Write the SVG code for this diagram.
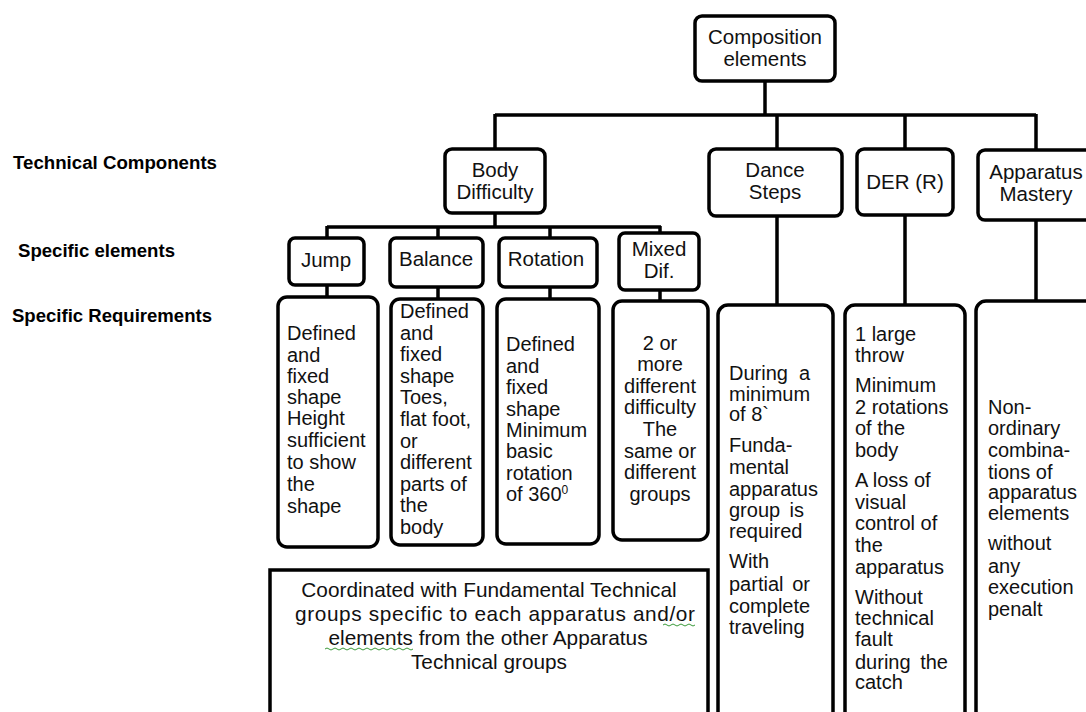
<svg xmlns="http://www.w3.org/2000/svg" width="1086" height="712" viewBox="0 0 1086 712">
<style>
.box{fill:#fff;stroke:#000;stroke-width:3.5}
.c{fill:none;stroke:#000;stroke-width:3.5}
text{font-family:"Liberation Sans",Arial,sans-serif;font-size:20px;fill:#111}
.h{font-size:20.5px}
.m{text-anchor:middle}
.big{font-size:20.8px}
.lab{font-weight:bold;font-size:18px;fill:#000}
.wave{fill:none;stroke:#3a9a3a;stroke-width:1}
</style>
<rect width="1086" height="712" fill="#fff"/>
<g id="connectors">
<path class="c" d="M765 81V115" stroke-width="5"/>
<path class="c" d="M495 115H1036M495 114V149M777 114V305M905 114V305M1036 114V302"/>
<path class="c" d="M495 213V227M327 227H661M327 226V297M438 226V300M550 226V300M660 226V301"/>
</g>
<g id="labels">
<text class="lab" x="13" y="169" textLength="204" lengthAdjust="spacingAndGlyphs">Technical Components</text>
<text class="lab" x="18" y="257" textLength="157" lengthAdjust="spacingAndGlyphs">Specific elements</text>
<text class="lab" x="12" y="322" textLength="200" lengthAdjust="spacingAndGlyphs">Specific Requirements</text>
</g>
<g id="composition">
<rect class="box" x="695" y="16" width="140" height="65" rx="7"/>
<text class="m h" x="765" y="44">Composition</text>
<text class="m h" x="765" y="66">elements</text>
</g>
<g id="body-difficulty">
<rect class="box" x="445" y="149" width="100" height="64" rx="7"/>
<text class="m h" x="495" y="177">Body</text>
<text class="m h" x="495" y="199">Difficulty</text>
</g>
<g id="dance-steps">
<rect class="box" x="709" y="149" width="133" height="67" rx="7"/>
<text class="m h" x="775" y="177">Dance</text>
<text class="m h" x="775" y="199">Steps</text>
</g>
<g id="der">
<rect class="box" x="857" y="149" width="96" height="66" rx="7"/>
<text class="m h" x="905" y="189">DER (R)</text>
</g>
<g id="apparatus-mastery">
<rect class="box" x="978" y="150" width="120" height="70" rx="7"/>
<text class="m h" x="1036" y="179">Apparatus</text>
<text class="m h" x="1036" y="201">Mastery</text>
</g>
<g id="jump">
<rect class="box" x="289" y="238" width="75" height="47" rx="6"/>
<text class="m h" x="326" y="267">Jump</text>
</g>
<g id="balance">
<rect class="box" x="390" y="238" width="93" height="49" rx="6"/>
<text class="m h" x="436" y="266">Balance</text>
</g>
<g id="rotation">
<rect class="box" x="499" y="238" width="98" height="49" rx="6"/>
<text class="m h" x="546" y="266">Rotation</text>
</g>
<g id="mixed">
<rect class="box" x="619" y="233" width="80" height="57" rx="6"/>
<text class="m h" x="659" y="256">Mixed</text>
<text class="m h" x="659" y="278">Dif.</text>
</g>
<g id="jump-req">
<rect class="box" x="278" y="297" width="100" height="250" rx="9"/>
<text x="287" y="340">Defined</text>
<text x="287" y="362">and</text>
<text x="287" y="383">fixed</text>
<text x="287" y="404">shape</text>
<text x="287" y="425">Height</text>
<text x="287" y="447">sufficient</text>
<text x="287" y="469">to show</text>
<text x="287" y="491">the</text>
<text x="287" y="513">shape</text>
</g>
<g id="balance-req">
<rect class="box" x="391" y="299" width="92" height="246" rx="9"/>
<text x="400" y="318">Defined</text>
<text x="400" y="340">and</text>
<text x="400" y="361">fixed</text>
<text x="400" y="383">shape</text>
<text x="400" y="404">Toes,</text>
<text x="400" y="426">flat foot,</text>
<text x="400" y="448">or</text>
<text x="400" y="469">different</text>
<text x="400" y="491">parts of</text>
<text x="400" y="512">the</text>
<text x="400" y="534">body</text>
</g>
<g id="rotation-req">
<rect class="box" x="497" y="299" width="102" height="245" rx="9"/>
<text x="506" y="351">Defined</text>
<text x="506" y="373">and</text>
<text x="506" y="394">fixed</text>
<text x="506" y="416">shape</text>
<text x="506" y="437">Minimum</text>
<text x="506" y="458">basic</text>
<text x="506" y="480">rotation</text>
<text x="506" y="501">of 360<tspan font-size="12" dy="-7">0</tspan></text>
</g>
<g id="mixed-req">
<rect class="box" x="613" y="301" width="95" height="239" rx="9"/>
<text class="m" x="660" y="350">2 or</text>
<text class="m" x="660" y="371">more</text>
<text class="m" x="660" y="393">different</text>
<text class="m" x="660" y="414">difficulty</text>
<text class="m" x="660" y="436">The</text>
<text class="m" x="660" y="458">same or</text>
<text class="m" x="660" y="479">different</text>
<text class="m" x="660" y="501">groups</text>
</g>
<g id="coordinated">
<rect class="box" x="270" y="570" width="438" height="170"/>
<text class="m big" x="489" y="597">Coordinated with Fundamental Technical</text>
<text class="m big" x="495" y="621" textLength="400" lengthAdjust="spacing">groups specific to each apparatus and/or</text>
<text class="m big" x="488" y="645">elements from the other Apparatus</text>
<text class="m big" x="489" y="669">Technical groups</text>
<path class="wave" d="M663 625q2-2 4 0t4 0t4 0t4 0t4 0t4 0t4 0t4 0"/>
<path class="wave" d="M325 649q2-2 4 0t4 0t4 0t4 0t4 0t4 0t4 0t4 0t4 0t4 0t4 0t4 0t4 0t4 0t4 0t4 0t4 0t4 0t4 0t4 0t4 0t4 0"/>
</g>
<g id="dance-req">
<rect class="box" x="718" y="305" width="115" height="430" rx="10"/>
<text x="729" y="380">During</text><text x="810" y="380" text-anchor="end">a</text>
<text x="729" y="401">minimum</text>
<text x="729" y="421">of 8`</text>
<text x="729" y="452">Funda-</text>
<text x="729" y="474">mental</text>
<text x="729" y="496">apparatus</text>
<text x="729" y="517">group</text><text x="804" y="517" text-anchor="end">is</text>
<text x="729" y="538">required</text>
<text x="729" y="568">With</text>
<text x="729" y="591">partial</text><text x="810" y="591" text-anchor="end">or</text>
<text x="729" y="613">complete</text>
<text x="729" y="634">traveling</text>
</g>
<g id="der-req">
<rect class="box" x="845" y="305" width="120" height="430" rx="10"/>
<text x="855" y="341">1 large</text>
<text x="855" y="362">throw</text>
<text x="855" y="392">Minimum</text>
<text x="855" y="414">2 rotations</text>
<text x="855" y="435">of the</text>
<text x="855" y="457">body</text>
<text x="855" y="487">A loss of</text>
<text x="855" y="509">visual</text>
<text x="855" y="530">control of</text>
<text x="855" y="552">the</text>
<text x="855" y="574">apparatus</text>
<text x="855" y="604">Without</text>
<text x="855" y="625">technical</text>
<text x="855" y="646">fault</text>
<text x="855" y="669">during</text><text x="948" y="669" text-anchor="end">the</text>
<text x="855" y="689">catch</text>
</g>
<g id="apparatus-req">
<rect class="box" x="976" y="301" width="130" height="434" rx="10"/>
<text x="988" y="414">Non-</text>
<text x="988" y="435">ordinary</text>
<text x="988" y="457">combina-</text>
<text x="988" y="479">tions of</text>
<text x="988" y="499">apparatus</text>
<text x="988" y="520">elements</text>
<text x="988" y="550">without</text>
<text x="988" y="573">any</text>
<text x="988" y="594">execution</text>
<text x="988" y="616">penalt</text>
</g>
</svg>
